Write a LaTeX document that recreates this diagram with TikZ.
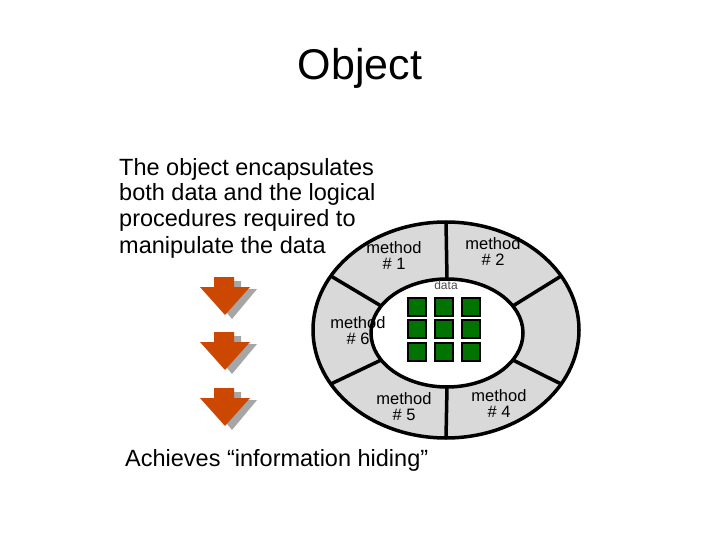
\documentclass[tikz,border=0pt]{standalone}
\usepackage{fontspec}
\setmainfont{Liberation Sans}
\usetikzlibrary{calc}
\begin{document}
\begin{tikzpicture}[x=1pt,y=-1pt,
  txt/.style={anchor=base west,inner sep=0pt,font=\fontsize{23.5}{25}\selectfont},
  meth/.style={align=center,inner sep=0pt,font=\fontsize{16.5}{16}\selectfont},
  sq/.style={draw=black,line width=2pt,fill=green!45!black,minimum size=18pt,inner sep=0pt}]
\useasboundingbox (0,0) rectangle (720,540);
\node[inner sep=0pt,font=\fontsize{43}{43}\selectfont] (title) at (360,68) {Object};
\node[txt] (l1) at (119,176) {The object encapsulates};
\node[txt] (l2) at (119,201) {both data and the logical};
\node[txt] (l3) at (119,226) {procedures required to};
\node[txt] (l4) at (119,253) {manipulate the data};
\node[txt] (ach) at (125,466) {Achieves “information hiding”};
% ring
\fill[gray!30,even odd rule] (446,330) ellipse [x radius=133,y radius=108] (447,333) ellipse [x radius=76,y radius=54];
\draw[line width=3.5pt] (446,330) ellipse [x radius=133,y radius=108];
\draw[line width=3.5pt,fill=white] (447,333) ellipse [x radius=76,y radius=54];
\foreach \a in {90,150,210,270,330,30}{
  \draw[line width=3.5pt] ($(447,333)+(\a:76 and -54)$) -- ($(446,330)+(\a:133 and -108)$);
}
\node[meth] (m1) at (394,256) {method\\\# 1};
\node[meth] (m2) at (493,252) {method\\\# 2};
\node[meth] (m4) at (499,404) {method\\\# 4};
\node[meth] (m5) at (404,407) {method\\\# 5};
\node[meth] (m6) at (358,331) {method\\\# 6};
\node[inner sep=0pt,font=\fontsize{12}{12}\selectfont,text=gray!60!black] (data) at (446,285) {data};
\foreach \i/\x in {0/417,1/444,2/471}{\foreach \j/\y in {0/307,1/329,2/352}{
  \node[sq] (s\i\j) at (\x,\y) {};}}
% arrows
\foreach \k/\y in {1/277,2/332,3/388}{
  \fill[gray!70] (221,\y+4) -- (241,\y+4) -- (241,\y+12) -- (257,\y+12) -- (232,\y+42) -- (207,\y+12) -- (221,\y+12) -- cycle;
  \fill[orange!70!red!80!black] (214,\y) -- (234,\y) -- (234,\y+10) -- (250,\y+10) -- (225,\y+38) -- (200,\y+10) -- (214,\y+10) -- cycle;
}
\end{tikzpicture}
\end{document}
